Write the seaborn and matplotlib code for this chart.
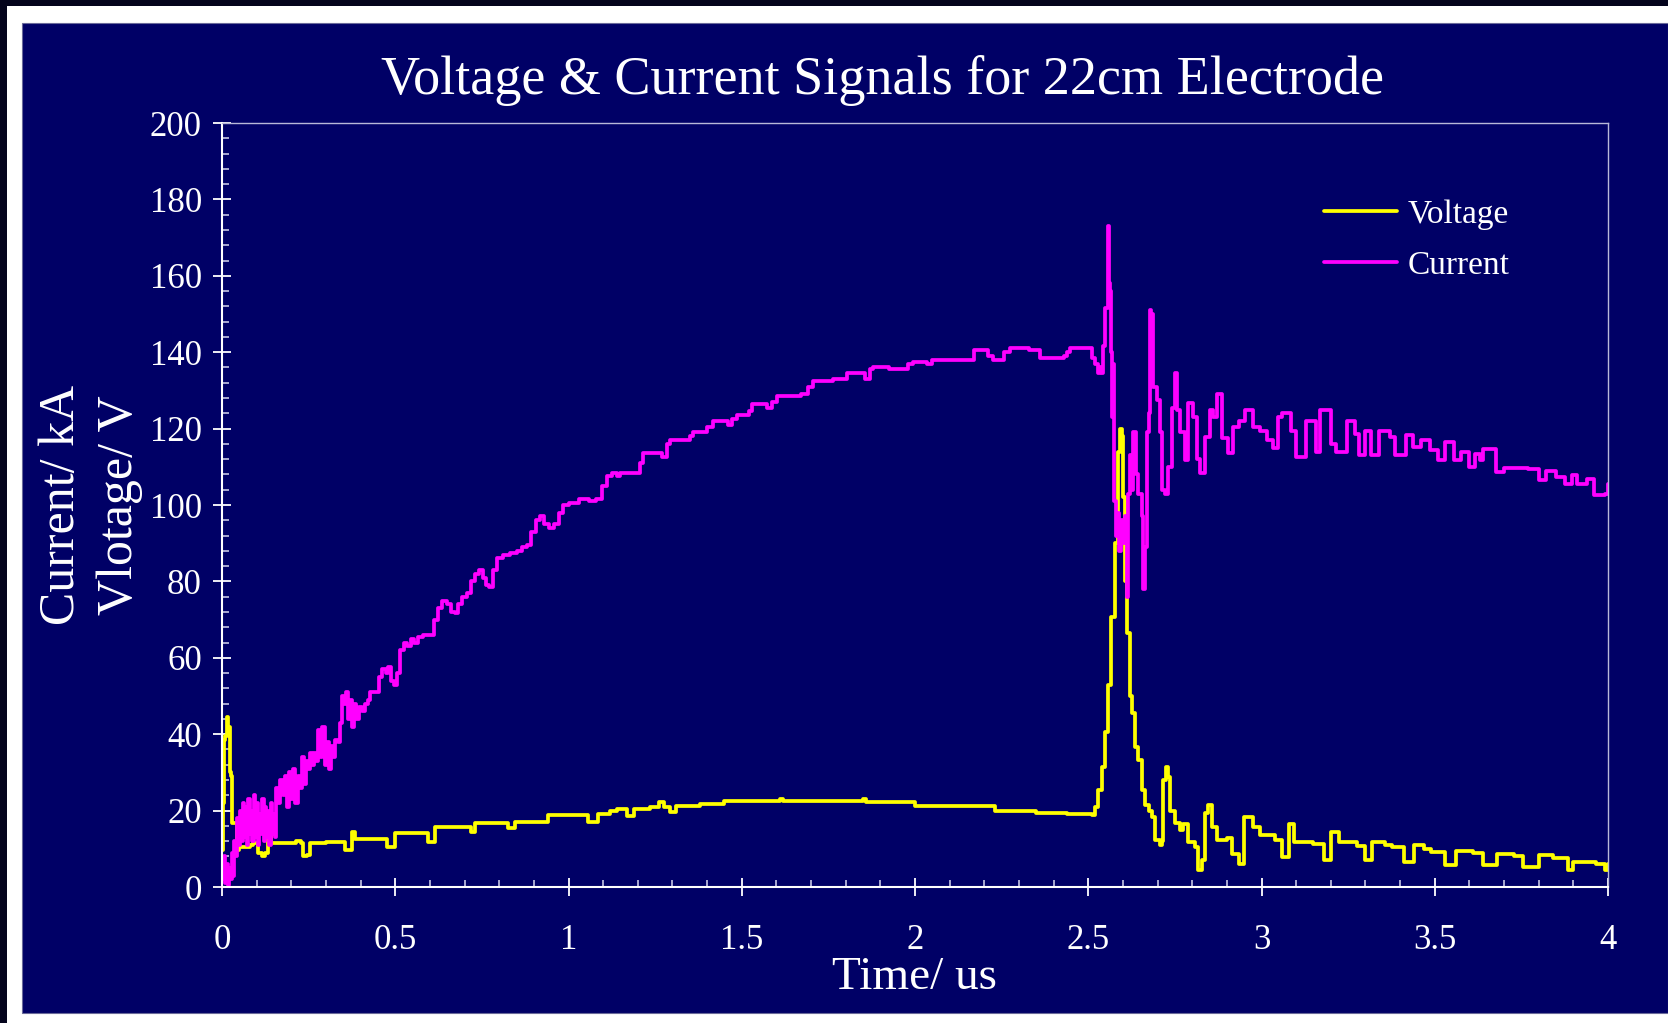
import matplotlib
matplotlib.use("Agg")
import matplotlib.pyplot as plt
import seaborn as sns
import pandas as pd
from matplotlib.patches import Rectangle
from matplotlib.ticker import MultipleLocator

# ---------------- data ----------------
volt_t = [0.000, 0.002, 0.005, 0.010, 0.013, 0.017, 0.021, 0.023, 0.026, 0.028, 0.038, 0.042,
          0.050, 0.080, 0.090, 0.105, 0.115, 0.125, 0.134, 0.140, 0.200, 0.215, 0.228, 0.235,
          0.245, 0.254, 0.283, 0.300, 0.340, 0.355, 0.374, 0.384, 0.460, 0.475, 0.499, 0.567,
          0.595, 0.615, 0.692, 0.720, 0.730, 0.807, 0.826, 0.845, 0.932, 0.942, 1.038, 1.057,
          1.086, 1.120, 1.140, 1.170, 1.190, 1.235, 1.260, 1.275, 1.293, 1.310, 1.380, 1.450,
          1.610, 1.620, 1.850, 1.860, 2.000, 2.230, 2.350, 2.440, 2.512, 2.520, 2.529, 2.539,
          2.548, 2.558, 2.567, 2.577, 2.586, 2.592, 2.597, 2.601, 2.606, 2.611, 2.620, 2.625,
          2.635, 2.645, 2.654, 2.664, 2.674, 2.683, 2.693, 2.707, 2.712, 2.717, 2.724, 2.731,
          2.736, 2.750, 2.765, 2.774, 2.789, 2.808, 2.818, 2.827, 2.837, 2.846, 2.856, 2.871,
          2.900, 2.915, 2.935, 2.950, 2.975, 2.995, 3.040, 3.060, 3.078, 3.095, 3.150, 3.180,
          3.200, 3.225, 3.275, 3.300, 3.320, 3.355, 3.376, 3.410, 3.440, 3.470, 3.490, 3.530,
          3.560, 3.610, 3.640, 3.680, 3.730, 3.755, 3.800, 3.840, 3.885, 3.900, 3.965, 3.990,
          4.000]
volt_v = [9.7, 22, 38.5, 39.5, 44.5, 42, 42, 30, 29, 16.7, 16.7, 9.7,
          10.5, 11, 11.4, 9, 8, 9, 13.6, 11.4, 11.4, 12, 11.4, 8,
          8.5, 11.4, 11.4, 11.9, 11.9, 9.7, 14.5, 12.5, 12.5, 10.5, 14.1, 14.1,
          11.9, 15.8, 15.8, 14.5, 16.7, 16.7, 15.4, 17.1, 17.1, 18.8, 18.8, 17.1,
          19.2, 20.0, 20.5, 18.7, 20.5, 21.0, 22.3, 21.0, 19.7, 21.3, 21.7, 22.5,
          23.0, 22.5, 23.0, 22.2, 21.3, 20.0, 19.5, 19.0, 18.8, 21, 25.4, 31.5,
          40.7, 52.9, 70.8, 90, 114, 120, 118, 102, 80, 66.4, 50, 45.5,
          36.7, 33.2, 25.4, 21.5, 20, 18.4, 12.3, 11, 12, 28, 31.5, 28.8,
          20, 16.7, 14.9, 16.5, 11.9, 10.6, 4.5, 7, 19.3, 21.5, 15.8, 12.3,
          12.8, 8.7, 6.1, 18.3, 15.7, 13.5, 12.2, 7.9, 16.6, 11.8, 11.2, 7.0,
          14.4, 11.8, 10.8, 7.0, 11.8, 11.0, 10.5, 6.5, 10.9, 10.0, 9.2, 5.7,
          9.4, 8.8, 5.7, 8.7, 8.0, 5.2, 8.3, 7.5, 4.4, 6.5, 6.0, 4.4,
          6.1]

curr_t = [0.000, 0.005, 0.008, 0.012, 0.016, 0.020, 0.024, 0.028, 0.032, 0.036, 0.040, 0.044,
          0.048, 0.052, 0.056, 0.060, 0.064, 0.068, 0.072, 0.076, 0.080, 0.084, 0.088, 0.092,
          0.096, 0.100, 0.104, 0.108, 0.112, 0.116, 0.120, 0.124, 0.128, 0.132, 0.136, 0.140,
          0.144, 0.148, 0.152, 0.156, 0.162, 0.168, 0.175, 0.182, 0.188, 0.194, 0.200, 0.206,
          0.212, 0.218, 0.224, 0.230, 0.236, 0.242, 0.248, 0.254, 0.260, 0.266, 0.272, 0.278,
          0.284, 0.290, 0.296, 0.302, 0.308, 0.314, 0.320, 0.326, 0.334, 0.340, 0.346, 0.352,
          0.358, 0.364, 0.370, 0.376, 0.382, 0.388, 0.396, 0.404, 0.412, 0.420, 0.428, 0.440,
          0.452, 0.462, 0.472, 0.480, 0.488, 0.496, 0.505, 0.515, 0.525, 0.535, 0.545, 0.555,
          0.565, 0.580, 0.600, 0.612, 0.622, 0.634, 0.650, 0.662, 0.672, 0.682, 0.694, 0.708,
          0.718, 0.730, 0.742, 0.752, 0.762, 0.772, 0.782, 0.795, 0.810, 0.830, 0.850, 0.865,
          0.880, 0.893, 0.905, 0.918, 0.930, 0.945, 0.958, 0.972, 0.985, 1.000, 1.030, 1.060,
          1.080, 1.098, 1.112, 1.125, 1.140, 1.150, 1.197, 1.205, 1.216, 1.260, 1.270, 1.285,
          1.293, 1.350, 1.360, 1.400, 1.418, 1.460, 1.472, 1.486, 1.520, 1.529, 1.560, 1.572,
          1.588, 1.601, 1.670, 1.690, 1.706, 1.764, 1.803, 1.855, 1.870, 1.880, 1.925, 1.980,
          1.995, 2.035, 2.050, 2.170, 2.210, 2.226, 2.258, 2.274, 2.330, 2.361, 2.430, 2.440,
          2.447, 2.505, 2.512, 2.520, 2.528, 2.535, 2.540, 2.543, 2.548, 2.556, 2.558, 2.561,
          2.564, 2.567, 2.569, 2.572, 2.575, 2.580, 2.585, 2.590, 2.595, 2.600, 2.605, 2.611,
          2.615, 2.620, 2.625, 2.630, 2.637, 2.645, 2.654, 2.659, 2.664, 2.669, 2.674, 2.678,
          2.682, 2.688, 2.697, 2.707, 2.714, 2.721, 2.731, 2.741, 2.750, 2.755, 2.765, 2.779,
          2.789, 2.803, 2.815, 2.823, 2.837, 2.850, 2.860, 2.871, 2.885, 2.904, 2.919, 2.935,
          2.952, 2.976, 2.996, 3.015, 3.034, 3.048, 3.060, 3.085, 3.100, 3.127, 3.157, 3.170,
          3.200, 3.215, 3.246, 3.270, 3.280, 3.300, 3.316, 3.340, 3.370, 3.386, 3.416, 3.436,
          3.460, 3.486, 3.510, 3.530, 3.556, 3.576, 3.600, 3.616, 3.630, 3.640, 3.676, 3.700,
          3.770, 3.800, 3.820, 3.850, 3.875, 3.895, 3.910, 3.940, 3.960, 3.990, 4.000]
curr_v = [2, 8, 1, 6, 0.5, 5, 2, 9, 3, 12, 8, 18,
          11, 20, 12, 22, 13, 21, 11, 23, 14, 20, 12, 24,
          13, 22, 11, 19, 14, 23, 12, 21, 13, 20, 11, 22,
          14, 19, 13, 26, 22, 28, 24, 29, 21, 30, 23, 31,
          22, 29, 26, 34, 27, 33, 31, 35, 32, 35, 33, 41,
          34, 42, 32, 38, 31, 37, 34, 38.5, 38, 43, 50, 48,
          51, 44, 49, 42, 48, 44, 47, 46, 48, 49, 51, 51,
          55, 57, 56, 57.5, 54, 53, 56, 62, 64, 63, 65, 64,
          65.5, 66, 66, 70, 73, 75, 74, 72, 71.7, 74, 76, 77,
          80, 82, 83, 81, 79, 78.5, 83, 86, 87, 87.5, 88, 89,
          89.5, 93, 96, 97, 95, 94, 95, 98, 100, 100.5, 101.5, 101,
          101.5, 105, 107.5, 108.5, 107.5, 108.5, 108.5, 111, 113.5, 113.5, 112.5, 116,
          117, 118, 119, 120.5, 122, 121, 122.5, 123.5, 124.5, 126.5, 126.5, 125.5,
          127, 128.5, 129, 131, 132.5, 133, 134.5, 133, 135.5, 136, 135.5, 137,
          137.5, 137, 138, 140.5, 139, 138, 140, 141, 140.5, 138.5, 139, 140,
          141, 141, 138.5, 137, 134.5, 136, 134.5, 141.5, 151.5, 155, 173, 158,
          156, 140, 123, 137, 101, 92, 98, 88, 96, 90, 97, 76,
          103, 113, 104, 119, 108, 103, 97, 78, 89, 119, 124, 151,
          150, 131, 127.5, 119, 104, 103, 110, 125.5, 134.5, 124.8, 119, 111.8,
          126.6, 123, 112, 108.4, 117.8, 124.8, 123, 129, 117.5, 113.6, 120.5, 122,
          124.8, 120.5, 119.5, 117, 115, 123, 124, 119.5, 112.6, 122, 114, 124.8,
          116, 114, 122, 118.7, 113, 119.5, 113, 119.5, 117.8, 113, 118.2, 115.2,
          117, 114.3, 111.7, 116.5, 111.7, 113.9, 110, 113.4, 111.7, 114.7, 108.6, 109.8,
          109.5, 106.5, 109, 107.3, 105.6, 107.8, 105.6, 106.9, 102.5, 103, 105.4]

x_ticks = [0, 0.5, 1, 1.5, 2, 2.5, 3, 3.5, 4]
x_tick_labels = ["0", "0.5", "1", "1.5", "2", "2.5", "3", "3.5", "4"]
y_ticks = [0, 20, 40, 60, 80, 100, 120, 140, 160, 180, 200]
y_tick_labels = [str(v) for v in y_ticks]

title_text = "Voltage & Current Signals for 22cm Electrode"
x_label = "Time/ us"
y_label = "Current/ kA\nVlotage/ V"

volt_df = pd.DataFrame({"t": volt_t, "v": volt_v})
curr_df = pd.DataFrame({"t": curr_t, "v": curr_v})

# ---------------- style ----------------
sns.set_theme(style="white")
plt.rcParams["font.family"] = ["Liberation Serif", "DejaVu Serif"]

NAVY = "#000066"
W, H = 1668, 1023
fig = plt.figure(figsize=(W / 100, H / 100), dpi=100, facecolor="white")

# frame decorations
fig.patches.append(Rectangle((0, 0), 7 / W, 1, transform=fig.transFigure,
                             facecolor="#04041c", edgecolor="none", zorder=-10))
fig.patches.append(Rectangle((0, 1 - 6 / H), 1, 6 / H, transform=fig.transFigure,
                             facecolor="#04041c", edgecolor="none", zorder=-10))
fig.patches.append(Rectangle((22 / W, 10 / H), 1 - 22 / W, (H - 23 - 10) / H,
                             transform=fig.transFigure, facecolor=NAVY,
                             edgecolor="#6a6a9a", linewidth=0.8, zorder=-9))

ax = fig.add_axes([222 / W, (H - 887) / H, (1608 - 222) / W, (887 - 123) / H])
ax.set_facecolor(NAVY)

sns.lineplot(data=volt_df, x="t", y="v", ax=ax, color="#ffff00", linewidth=2.7,
             label="Voltage", drawstyle="steps-post", estimator=None, sort=False)
sns.lineplot(data=curr_df, x="t", y="v", ax=ax, color="#ff00ff", linewidth=2.7,
             label="Current", drawstyle="steps-post", estimator=None, sort=False)

ax.set_xlim(0, 4)
ax.set_ylim(0, 200)
ax.set_xticks(x_ticks)
ax.set_xticklabels(x_tick_labels)
ax.set_yticks(y_ticks)
ax.set_yticklabels(y_tick_labels)
ax.xaxis.set_minor_locator(MultipleLocator(0.1))
ax.yaxis.set_minor_locator(MultipleLocator(4))

ax.tick_params(which="both", bottom=True, left=True, top=False, right=False)
ax.tick_params(which="major", direction="inout", length=13, width=1.3,
               color="white", labelcolor="white", labelsize=25)
ax.tick_params(axis="x", which="major", pad=20)
ax.tick_params(axis="y", which="major", pad=8)
ax.tick_params(which="minor", direction="in", length=5, width=1.1, color="#d8d8f0")

for side in ("left", "bottom"):
    ax.spines[side].set_color("white")
    ax.spines[side].set_linewidth(1.5)
for side in ("top", "right"):
    ax.spines[side].set_color("#b8b8d8")
    ax.spines[side].set_linewidth(1.0)

ax.set_xlabel(x_label, fontsize=34, color="white")
ax.xaxis.set_label_coords(0.5, (887 - 978) / (887 - 123))
ax.xaxis.label.set_va("center")

ax.set_ylabel(y_label, fontsize=36, color="white", linespacing=1.32)
ax.yaxis.set_label_coords((91 - 222) / (1608 - 222), 0.5)
ax.yaxis.label.set_va("center")

fig.suptitle(title_text, x=882 / W, y=1 - 94 / H, va="baseline", ha="center",
             fontsize=39, color="white")

leg = ax.legend(loc="upper left", bbox_to_anchor=(0.795, 0.900), frameon=False,
                fontsize=24, handlelength=2.2, handletextpad=0.3, labelspacing=0.62,
                borderpad=0, borderaxespad=0)
for txt in leg.get_texts():
    txt.set_color("white")

fig.savefig("out.png", dpi=100, facecolor=fig.get_facecolor())
